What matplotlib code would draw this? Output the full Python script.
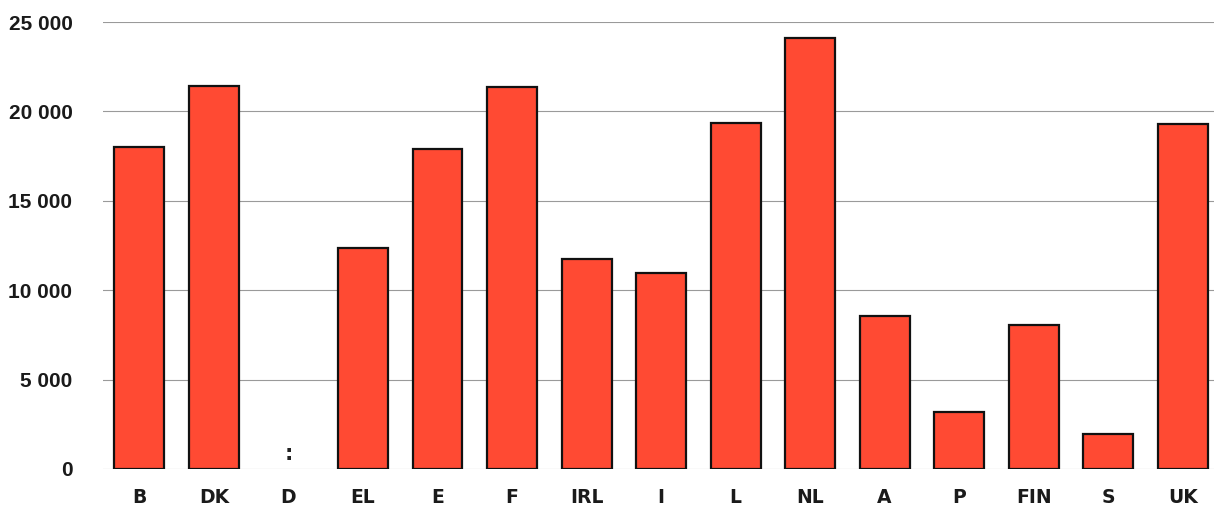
import matplotlib
matplotlib.use("Agg")
import matplotlib.pyplot as plt
import numpy as np

countries = ["B", "DK", "D", "EL", "E", "F", "IRL", "I", "L", "NL", "A", "P", "FIN", "S", "UK"]
values = [18000, 21440, np.nan, 12350, 17900, 21360, 11740, 10960, 19350, 24100, 8560, 3190, 8050, 1960, 19310]
yticks = [0, 5000, 10000, 15000, 20000, 25000]
ytick_labels = ["0", "5 000", "10 000", "15 000", "20 000", "25 000"]

plt.rcParams['font.family'] = ['Liberation Sans', 'DejaVu Sans']

fig = plt.figure(figsize=(12.14, 5.07), dpi=100)
ax = fig.add_axes([0.0848, 0.075, 0.9152, 0.8816])

x = np.arange(len(countries))
vals = np.array(values, dtype=float)
ok = ~np.isnan(vals)
ax.bar(x[ok], vals[ok], width=0.67, color="#FF4A33", edgecolor="#111111", linewidth=1.6, zorder=3)

for xi, v in zip(x, vals):
    if np.isnan(v):
        ax.text(xi, 850, ":", ha="center", va="center", fontsize=15, fontweight="bold",
                color="#222222", family="DejaVu Sans")

ax.set_xlim(-0.49, 14.42)
ax.set_ylim(0, 25000)
ax.set_yticks(yticks)
ax.set_yticklabels(ytick_labels, fontsize=15, fontweight="bold", color="#1a1a1a")
ax.set_xticks(x)
ax.set_xticklabels(countries, fontsize=13.5, fontweight="bold", color="#1a1a1a", family="DejaVu Sans")
ax.tick_params(axis="y", length=0, pad=22)
ax.tick_params(axis="x", length=0, pad=14)

ax.grid(axis="y", color="#9a9a9a", linewidth=0.8, zorder=0)
for s in ax.spines.values():
    s.set_visible(False)

fig.savefig("out.png", dpi=100, facecolor="white")
